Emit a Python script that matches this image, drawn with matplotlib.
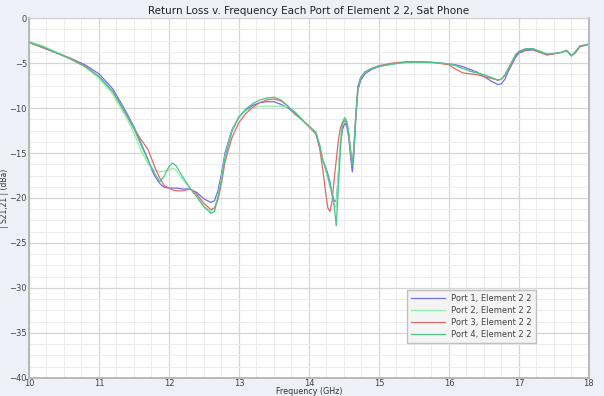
import numpy as np
import matplotlib
matplotlib.use("Agg")
import matplotlib.pyplot as plt
from matplotlib.ticker import MultipleLocator

# ── data (GHz, dBa) ─────────────────────────────────────────────────────────
freq = [10.0, 10.2, 10.4, 10.6, 10.8, 11.0, 11.2, 11.4, 11.5, 11.6,
        11.7, 11.75, 11.8, 11.87, 11.93, 12.0, 12.05, 12.1, 12.2, 12.3,
        12.4, 12.5, 12.6, 12.65, 12.7, 12.75, 12.8, 12.9, 13.0, 13.1,
        13.2, 13.3, 13.4, 13.5, 13.6, 13.7, 13.8, 13.9, 14.0, 14.1,
        14.15, 14.2, 14.24, 14.27, 14.3, 14.33, 14.36, 14.39, 14.42, 14.45,
        14.48, 14.51, 14.54, 14.57, 14.6, 14.62, 14.64, 14.67, 14.7, 14.74,
        14.8, 14.9, 15.0, 15.2, 15.4, 15.6, 15.8, 16.0, 16.1, 16.2,
        16.3, 16.4, 16.5, 16.6, 16.7, 16.75, 16.8, 16.85, 16.95, 17.0,
        17.1, 17.2, 17.3, 17.4, 17.55, 17.62, 17.68, 17.75, 17.8, 17.87,
        18.0]

port1 = [-2.7, -3.3, -3.9, -4.5, -5.2, -6.2, -7.9, -10.6, -12.1, -13.9,
         -15.7, -16.8, -17.6, -18.4, -18.8, -18.9, -18.9, -18.9, -19.0, -19.0,
         -19.4, -20.1, -20.5, -20.3, -19.2, -17.3, -15.0, -12.4, -11.0, -10.2,
         -9.7, -9.4, -9.3, -9.3, -9.6, -10.0, -10.6, -11.3, -12.1, -12.9,
         -14.3, -15.8, -16.6, -17.3, -18.2, -19.5, -20.3, -20.4, -17.5, -14.0,
         -12.4, -11.7, -12.0, -13.4, -15.8, -17.1, -15.5, -11.2, -8.0, -6.9,
         -6.2, -5.7, -5.4, -5.1, -4.9, -4.9, -4.95, -5.1, -5.2, -5.4,
         -5.7, -6.0, -6.5, -7.0, -7.4, -7.3, -6.8, -5.9, -4.4, -3.9,
         -3.6, -3.55, -3.8, -4.1, -3.9, -3.8, -3.6, -4.2, -3.9, -3.2,
         -2.9]

port2 = [-2.6, -3.1, -3.8, -4.5, -5.4, -6.7, -8.5, -11.2, -12.8, -14.7,
         -16.2, -16.7, -16.9, -17.1, -17.0, -16.9, -16.7, -16.9, -18.0, -18.9,
         -19.8, -20.9, -21.5, -21.2, -19.8, -17.8, -15.4, -12.5, -11.0, -10.3,
         -10.0, -9.8, -9.8, -9.8, -9.8, -9.9, -10.4, -11.2, -12.1, -12.8,
         -14.0, -15.8, -16.9, -17.8, -18.8, -19.6, -20.8, -21.0, -17.0, -13.2,
         -11.5, -11.0, -11.4, -12.8, -15.0, -16.3, -14.6, -10.6, -7.6, -6.6,
         -6.0, -5.6, -5.35, -5.1, -4.9, -4.9, -4.95, -5.1, -5.3, -5.6,
         -5.9, -6.1, -6.3, -6.6, -6.9, -6.8, -6.3, -5.6, -4.1, -3.7,
         -3.4, -3.4, -3.7, -4.0, -3.9, -3.8, -3.6, -4.2, -3.8, -3.1,
         -2.9]

port3 = [-2.7, -3.3, -3.9, -4.5, -5.3, -6.5, -8.2, -10.9, -12.3, -13.5,
         -14.6, -15.6, -16.6, -17.8, -18.6, -18.9, -19.1, -19.2, -19.2, -19.0,
         -19.6, -20.6, -21.3, -21.1, -20.2, -18.4, -16.0, -13.3, -11.6, -10.6,
         -9.9, -9.4, -9.1, -9.0, -9.2, -9.8, -10.7, -11.3, -12.0, -12.8,
         -14.3, -17.0, -19.5, -21.1, -21.5, -20.4, -18.0, -15.8, -13.6, -12.2,
         -11.6, -11.4, -11.7, -13.0, -15.2, -16.4, -14.8, -10.8, -7.7, -6.6,
         -6.0, -5.6, -5.3, -5.0, -4.85, -4.85, -4.95, -5.2, -5.7, -6.1,
         -6.2, -6.3, -6.5, -6.7, -6.9, -6.8, -6.4, -5.7, -4.2, -3.8,
         -3.5, -3.5, -3.8, -4.1, -3.9, -3.8, -3.6, -4.2, -3.9, -3.2,
         -2.9]

port4 = [-2.7, -3.2, -3.9, -4.6, -5.4, -6.5, -8.2, -10.8, -12.3, -14.1,
         -15.8, -16.6, -17.3, -18.2, -17.6, -16.5, -16.1, -16.4, -17.7, -18.9,
         -19.9, -21.0, -21.7, -21.5, -19.9, -18.0, -15.6, -12.6, -11.0, -10.1,
         -9.5, -9.1, -8.9, -8.8, -9.1, -9.8, -10.5, -11.3, -12.0, -12.7,
         -14.0, -15.9, -16.8, -17.6, -18.5, -19.6, -20.8, -23.1, -19.0, -14.5,
         -11.8, -11.1, -11.5, -12.9, -15.1, -16.3, -14.7, -10.7, -7.6, -6.6,
         -6.0, -5.6, -5.35, -5.1, -4.9, -4.9, -4.95, -5.1, -5.3, -5.6,
         -5.9, -6.1, -6.3, -6.6, -6.9, -6.8, -6.3, -5.6, -4.1, -3.7,
         -3.4, -3.4, -3.7, -4.0, -3.9, -3.8, -3.6, -4.2, -3.8, -3.1,
         -2.9]

labels = ["Port 1, Element 2 2", "Port 2, Element 2 2",
          "Port 3, Element 2 2", "Port 4, Element 2 2"]
colors = ["#6f6ff0", "#8ef0ac", "#e06a6a", "#4cc48a"]

# ── figure ─────────────────────────────────────────────────────────────────
plt.rcParams["font.family"] = "DejaVu Sans"
fig = plt.figure(figsize=(6.04, 3.96), dpi=100, facecolor="#eff0f7")
ax = fig.add_axes([0.048, 0.0455, 0.927, 0.909], facecolor="white")

for y, lab, c in zip([port1, port2, port3, port4], labels, colors):
    ax.plot(freq, y, color=c, lw=0.9, label=lab)

ax.set_xlim(10, 18)
ax.set_ylim(-40, 0)
ax.xaxis.set_major_locator(MultipleLocator(1))
ax.xaxis.set_minor_locator(MultipleLocator(0.25))
ax.yaxis.set_major_locator(MultipleLocator(5))
ax.yaxis.set_minor_locator(MultipleLocator(1.25))
ax.grid(which="major", color="#d6d6d6", lw=0.9)
ax.grid(which="minor", color="#ececec", lw=0.7)
ax.set_axisbelow(True)

ax.tick_params(which="both", length=0, labelsize=6, colors="#444444")
ax.tick_params(axis="x", pad=1)
ax.tick_params(axis="y", pad=1.5)
for side in ["left", "bottom", "right"]:
    ax.spines[side].set_color("#b4b4b4")
    ax.spines[side].set_linewidth(1.3)
ax.spines["top"].set_color("#d0d0d0")
ax.spines["top"].set_linewidth(0.8)

ax.set_title("Return Loss v. Frequency Each Port of Element 2 2, Sat Phone",
             fontsize=7.5, color="#222222", pad=3)
ax.set_xlabel("Frequency (GHz)", fontsize=5.8, color="#333333", va="center")
ax.xaxis.set_label_coords(0.5, -0.038)
ax.set_ylabel("| S21,21 | (dBa)", fontsize=5.5, color="#333333", va="center")
ax.yaxis.set_label_coords(-0.043, 0.5)

leg = ax.legend(loc="upper left", bbox_to_anchor=(0.668, 0.256), fontsize=6,
                frameon=True, fancybox=False, edgecolor="#c0c0c0",
                facecolor="#f4f4f4", framealpha=1, handlelength=4,
                borderpad=0.5, labelspacing=0.35)
for t in leg.get_texts():
    t.set_color("#444444")

fig.savefig("out.png", dpi=100, facecolor=fig.get_facecolor())
